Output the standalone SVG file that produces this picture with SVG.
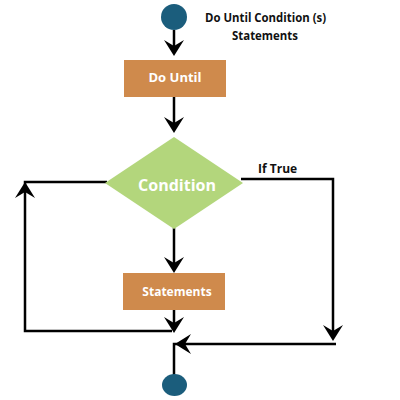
<svg xmlns="http://www.w3.org/2000/svg" width="400" height="400" viewBox="0 0 400 400">
<style>
.ln{fill:none;stroke:#000;stroke-width:2.5}
.ah{fill:#000}
.box{fill:#cf8a4c}
.wt{fill:#fff;font-family:"Open Sans","DejaVu Sans",sans-serif;font-weight:bold;text-anchor:middle}
.bt{fill:#111;font-family:"Open Sans","DejaVu Sans",sans-serif;font-weight:bold;font-size:12px}
.term{fill:#1b5d7c}
</style>
<defs>
<polygon id="ad" points="0,0 -10,-16 0,-10 10,-16"/>
</defs>
<g id="connectors">
<path class="ln" d="M174,30 V48"/>
<use href="#ad" class="ah" transform="translate(174,56)"/>
<path class="ln" d="M174,97 V125"/>
<use href="#ad" class="ah" transform="translate(174,133)"/>
<path class="ln" d="M174,228 V265"/>
<use href="#ad" class="ah" transform="translate(174,273)"/>
<path class="ln" d="M174,310 V325"/>
<use href="#ad" class="ah" transform="translate(174,333)"/>
<path class="ln" d="M107,182 H25 V331 H172"/>
<use href="#ad" class="ah" transform="translate(25,182) rotate(180)"/>
<path class="ln" d="M241,179 H333 V333"/>
<use href="#ad" class="ah" transform="translate(333,341)"/>
<path class="ln" d="M336,344 H174 V375"/>
<use href="#ad" class="ah" transform="translate(175,344) rotate(90)"/>
<text class="bt" x="258" y="173">If True</text>
</g>
<g id="start"><circle class="term" cx="174" cy="17" r="13"/></g>
<g id="title">
<text class="bt" x="205" y="22" textLength="121" lengthAdjust="spacingAndGlyphs">Do Until Condition (s)</text>
<text class="bt" x="232" y="40" textLength="66" lengthAdjust="spacingAndGlyphs">Statements</text>
</g>
<g id="dountil"><rect class="box" x="124" y="60" width="102" height="37"/><text class="wt" x="175" y="82" font-size="13">Do Until</text></g>
<g id="condition"><polygon points="174,137 243,183 174,229 105,183" fill="#b3d67c"/><text class="wt" x="177" y="191" font-size="16">Condition</text></g>
<g id="statements"><rect class="box" x="123" y="273" width="102" height="37"/><text class="wt" x="177" y="296" font-size="12">Statements</text></g>
<g id="end"><ellipse class="term" cx="174.5" cy="385" rx="12.5" ry="11"/></g>
</svg>
